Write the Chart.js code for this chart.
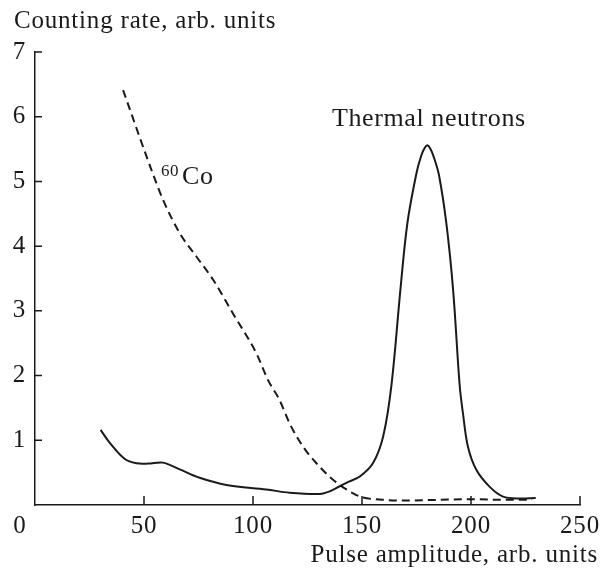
<!DOCTYPE html>
<html>
<head>
<meta charset="utf-8">
<script src="https://cdn.jsdelivr.net/npm/chart.js@4.4.1/dist/chart.umd.min.js"></script>
<style>
  html, body { margin: 0; padding: 0; background: #fff; }
  #wrap { width: 607px; height: 571px; position: relative; }
</style>
</head>
<body>
<div id="wrap"><canvas id="spectrum"></canvas></div>
<script>
  // values
  const thermalX = [30.1, 34.3, 41.2, 46.5, 52, 58.7, 66.4, 75.5, 87.8, 106.1, 116.8, 130.6, 135.2, 139.8, 144, 149,
    155, 159.7, 163.5, 167.6, 170.8, 175, 177.2, 178.8, 180, 181.3, 182.9, 185.3, 188.7, 191.8, 194.8, 196.3,
    198.6, 202.5, 208.6, 214.7, 222.3, 229.7];
  const thermalRate = [1.16, 0.96, 0.71, 0.645, 0.64, 0.655, 0.55, 0.42, 0.31, 0.24, 0.19, 0.17, 0.21, 0.29, 0.36, 0.44,
    0.645, 1.06, 1.85, 3.32, 4.35, 5.13, 5.4, 5.52, 5.56, 5.51, 5.38, 5.1, 4.35, 3.32, 1.85, 1.42,
    0.9, 0.54, 0.28, 0.13, 0.10, 0.11];

  const cobaltX = [40.4, 53.4, 58.8, 66.4, 74, 81.7, 90.8, 101.6, 106.9, 112.2, 116.8, 123, 129.1, 136.7, 145.9,
    150, 160, 170, 185, 200, 215, 228];
  const cobaltRate = [6.41, 5.18, 4.71, 4.2, 3.84, 3.48, 2.96, 2.34, 1.93, 1.62, 1.26, 0.9, 0.645, 0.39, 0.18,
    0.12, 0.08, 0.07, 0.08, 0.09, 0.08, 0.08];

  const xTicks = [50, 100, 150, 200, 250];
  const yTicks = [1, 2, 3, 4, 5, 6, 7];

  const FONT = '"Liberation Serif", "Times New Roman", serif';
  const INK = '#1a1a1a';

  function toPoints(xs, ys) {
    return xs.map((x, i) => ({ x: x, y: ys[i] }));
  }

  const spacing = {
    id: 'spacing',
    beforeLayout(chart) { chart.ctx.letterSpacing = '0.8px'; },
    beforeDraw(chart) { chart.ctx.letterSpacing = '0.8px'; }
  };

  // inward ticks, axis titles and the curve labels
  const decorations = {
    id: 'decorations',
    afterDraw(chart) {
      const ctx = chart.ctx;
      const xs = chart.scales.x;
      const ys = chart.scales.y;
      const x0 = xs.getPixelForValue(0);
      const y0 = ys.getPixelForValue(0);

      ctx.save();
      ctx.strokeStyle = INK;
      ctx.lineWidth = 1.5;
      ctx.beginPath();
      xTicks.forEach(v => {
        const px = xs.getPixelForValue(v);
        ctx.moveTo(px, y0);
        ctx.lineTo(px, y0 - 9);
      });
      yTicks.forEach(v => {
        const py = ys.getPixelForValue(v);
        ctx.moveTo(x0, py);
        ctx.lineTo(x0 + 7, py);
      });
      ctx.stroke();

      ctx.fillStyle = INK;
      ctx.letterSpacing = '0.8px';
      ctx.textBaseline = 'alphabetic';
      ctx.font = '25px ' + FONT;
      ctx.textAlign = 'left';
      ctx.fillText('Counting rate, arb. units', 14, 28);
      ctx.textAlign = 'right';
      ctx.fillText('Pulse amplitude, arb. units', 598, 562);
      ctx.textAlign = 'center';
      ctx.textBaseline = 'middle';
      ctx.fillText('0', 20, 526);

      ctx.textBaseline = 'alphabetic';
      ctx.textAlign = 'left';
      ctx.letterSpacing = '0.6px';
      ctx.font = '26px ' + FONT;
      ctx.fillText('Thermal neutrons', 332, 126);

      ctx.font = '17px ' + FONT;
      ctx.fillText('60', 161, 176);
      ctx.font = '26px ' + FONT;
      ctx.fillText('Co', 182, 184);
      ctx.restore();
    }
  };

  new Chart(document.getElementById('spectrum'), {
    type: 'line',
    data: {
      datasets: [
        {
          label: 'Thermal neutrons',
          data: toPoints(thermalX, thermalRate),
          borderColor: INK,
          borderWidth: 2,
          pointRadius: 0,
          tension: 0.35,
          fill: false
        },
        {
          label: '60Co',
          data: toPoints(cobaltX, cobaltRate),
          borderColor: INK,
          borderWidth: 2,
          borderDash: [8, 5],
          pointRadius: 0,
          cubicInterpolationMode: 'monotone',
          fill: false
        }
      ]
    },
    options: {
      responsive: true,
      maintainAspectRatio: false,
      animation: false,
      layout: { padding: { top: 52, right: 27, left: 0, bottom: 0 } },
      plugins: {
        legend: { display: false },
        tooltip: { enabled: false }
      },
      scales: {
        x: {
          type: 'linear',
          min: 0,
          max: 250,
          afterFit(scale) { scale.height = 66; },
          afterBuildTicks(scale) { scale.ticks = xTicks.map(v => ({ value: v })); },
          grid: { display: true, drawOnChartArea: false, drawTicks: false },
          border: { display: true, color: INK, width: 1.5 },
          ticks: {
            color: INK,
            padding: 6,
            maxRotation: 0,
            autoSkip: false,
            font: { family: FONT, size: 25 }
          }
        },
        y: {
          min: 0,
          max: 7,
          afterFit(scale) { scale.width = 35; },
          afterBuildTicks(scale) { scale.ticks = yTicks.map(v => ({ value: v })); },
          grid: { display: true, drawOnChartArea: false, drawTicks: false },
          border: { display: true, color: INK, width: 1.5 },
          ticks: {
            color: INK,
            padding: 9,
            autoSkip: false,
            font: { family: FONT, size: 25 }
          }
        }
      }
    },
    plugins: [spacing, decorations]
  });
</script>
</body>
</html>
